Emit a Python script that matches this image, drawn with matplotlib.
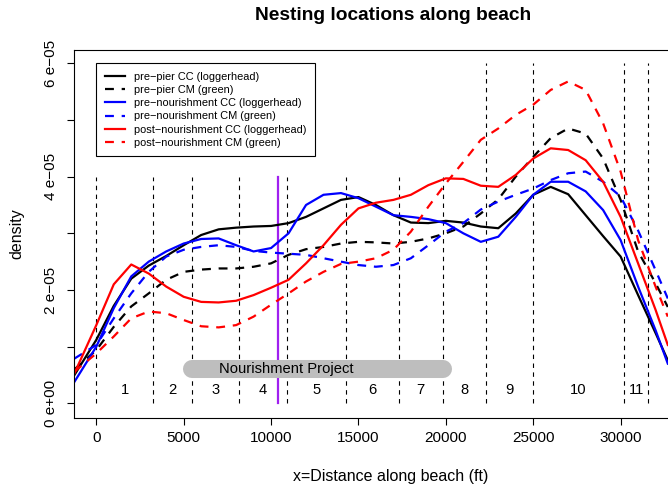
import matplotlib
matplotlib.use("Agg")
import matplotlib.pyplot as plt
import numpy as np

plt.rcParams['font.family'] = ['Liberation Sans', 'DejaVu Sans']

# distance along beach (ft) where densities were read
dist = [-1250, 0, 1000, 2000, 3000, 4000, 5000, 6000, 7000, 8000, 9000, 10000,
        11000, 12000, 13000, 14000, 15000, 16000, 17000, 18000, 19000, 20000,
        21000, 22000, 23000, 24000, 25000, 26000, 27000, 28000, 29000, 30000,
        31000, 32000, 32700]

# densities in units of 1e-5
pre_pier_cc = [0.50, 1.12, 1.72, 2.20, 2.43, 2.60, 2.79, 2.97, 3.07, 3.10, 3.12, 3.13,
               3.18, 3.29, 3.44, 3.59, 3.64, 3.50, 3.32, 3.19, 3.18, 3.22,
               3.19, 3.12, 3.09, 3.35, 3.68, 3.82, 3.69, 3.32, 2.95, 2.59,
               1.91, 1.24, 0.76]
pre_pier_cm = [0.60, 0.94, 1.35, 1.71, 1.94, 2.18, 2.32, 2.36, 2.38, 2.38, 2.41, 2.47,
               2.62, 2.72, 2.76, 2.82, 2.85, 2.84, 2.82, 2.85, 2.91, 3.00,
               3.12, 3.35, 3.60, 4.00, 4.35, 4.68, 4.85, 4.76, 4.32, 3.59,
               2.68, 2.12, 1.70]
pre_nour_cc = [0.38, 1.00, 1.68, 2.24, 2.50, 2.68, 2.82, 2.90, 2.91, 2.79, 2.68, 2.74,
               3.00, 3.50, 3.68, 3.71, 3.62, 3.47, 3.32, 3.29, 3.25, 3.18,
               3.00, 2.85, 2.94, 3.29, 3.68, 3.91, 3.91, 3.74, 3.41, 2.88,
               2.06, 1.29, 0.70]
pre_nour_cm = [0.79, 1.03, 1.50, 1.94, 2.32, 2.59, 2.71, 2.76, 2.79, 2.76, 2.69, 2.66,
               2.64, 2.62, 2.56, 2.50, 2.44, 2.41, 2.44, 2.56, 2.79, 3.03,
               3.18, 3.42, 3.56, 3.68, 3.79, 3.94, 4.06, 4.09, 3.91, 3.65,
               3.05, 2.35, 1.85]
post_nour_cc = [0.53, 1.38, 2.10, 2.45, 2.29, 2.06, 1.88, 1.79, 1.78, 1.81, 1.91, 2.04,
                2.18, 2.47, 2.79, 3.15, 3.44, 3.54, 3.59, 3.68, 3.85, 3.97,
                3.96, 3.84, 3.82, 4.03, 4.32, 4.50, 4.47, 4.29, 3.91, 3.29,
                2.47, 1.65, 1.03]
post_nour_cm = [0.56, 0.88, 1.18, 1.50, 1.62, 1.59, 1.47, 1.36, 1.34, 1.38, 1.53, 1.74,
                1.94, 2.15, 2.32, 2.46, 2.50, 2.56, 2.71, 3.03, 3.47, 3.88,
                4.26, 4.65, 4.85, 5.09, 5.27, 5.53, 5.68, 5.53, 4.94, 4.09,
                2.88, 2.06, 1.53]

series = [
    ("pre\u2212pier CC (loggerhead)", pre_pier_cc, "black", "-"),
    ("pre\u2212pier CM (green)", pre_pier_cm, "black", "--"),
    ("pre\u2212nourishment CC (loggerhead)", pre_nour_cc, "#0000ff", "-"),
    ("pre\u2212nourishment CM (green)", pre_nour_cm, "#0000ff", "--"),
    ("post\u2212nourishment CC (loggerhead)", post_nour_cc, "#ff0000", "-"),
    ("post\u2212nourishment CM (green)", post_nour_cm, "#ff0000", "--"),
]

# section boundaries (ft); the last four are drawn taller
bounds = [0, 3244, 5457, 8181, 10892, 14285, 17317, 19817, 22277, 24966, 30206, 31579]
tall_bounds = [22277, 24966, 30206, 31579]
section_names = ["1", "2", "3", "4", "5", "6", "7", "8", "9", "10", "11"]
pier_x = 10377
project_start, project_end = 5457, 19817

fig = plt.figure(figsize=(6.68, 4.87), dpi=100)
ax = fig.add_axes([74/668, 1-418/487, 634/668, 368/487])

for b in bounds:
    top = 6e-5 if b in tall_bounds else 4e-5
    ax.plot([b, b], [0, top], color="black", lw=0.8, ls=(0, (4, 4)))

ax.plot([pier_x, pier_x], [0, 4e-5], color="#a020f0", lw=1.6)

ax.plot([project_start, project_end], [0.605e-5, 0.605e-5], color="#bebebe",
        lw=13, solid_capstyle="round")
ax.text(10892, 0.605e-5, "Nourishment Project", ha="center", va="center", fontsize=10.6)

for i, name in enumerate(section_names):
    mid = (bounds[i] + bounds[i+1]) / 2
    ax.text(mid, 0.235e-5, name, ha="center", va="center", fontsize=10.6)

handles = []
for lab, vals, col, ls in series:
    y = np.array(vals) * 1e-5
    if ls == "--":
        h, = ax.plot(dist, y, color=col, lw=1.6, ls=(0, (4, 3.5)), label=lab)
    else:
        h, = ax.plot(dist, y, color=col, lw=1.6, label=lab)
    handles.append(h)

leg = ax.legend(handles=handles, loc="upper left", bbox_to_anchor=(22.3/634, 1-13.3/368),
                borderaxespad=0, fancybox=False, edgecolor="black", framealpha=1,
                fontsize=7.9, handlelength=1.9, handletextpad=0.8, labelspacing=0.3,
                borderpad=0.75)
leg.get_frame().set_linewidth(0.8)

ax.set_xlim(-1276, 35000)
ax.set_ylim(-0.259e-5, 6.235e-5)

ax.set_xticks([0, 5000, 10000, 15000, 20000, 25000, 30000])
ax.set_xticklabels(["0", "5000", "10000", "15000", "20000", "25000", "30000"])
ax.set_yticks([0, 1e-5, 2e-5, 3e-5, 4e-5, 5e-5, 6e-5])
ax.set_yticklabels(["0 e+00", "", "2 e\u221205", "", "4 e\u221205", "", "6 e\u221205"],
                   rotation=90, va="center")
ax.tick_params(axis="x", direction="out", length=5, width=0.8, labelsize=11, pad=4.5)
ax.tick_params(axis="y", direction="out", length=5, width=0.8, labelsize=11, pad=6.5)
for s in ax.spines.values():
    s.set_linewidth(0.8)

fig.text(391/668, 1-477/487, "x=Distance along beach (ft)", ha="center", va="center",
         fontsize=11.5)
ax.set_ylabel("density", fontsize=11.5, labelpad=14)
fig.text(393/668, 1-15/487, "Nesting locations along beach", ha="center", va="center",
         fontsize=13.8, fontweight="bold")

fig.savefig("out.png", dpi=100)
